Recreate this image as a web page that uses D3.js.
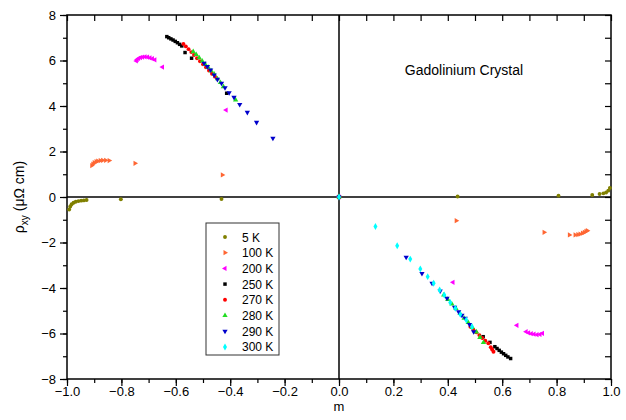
<!DOCTYPE html>
<html>
<head>
<meta charset="utf-8">
<script src="https://cdn.jsdelivr.net/npm/d3@7"></script>
<style>
body { margin: 0; background: #fff; }
text { font-family: "Liberation Sans", Arial, sans-serif; }
</style>
</head>
<body>
<div id="chart"></div>
<script>
// series: [m, rho_xy]
const temps = ["5 K", "100 K", "200 K", "250 K", "270 K", "280 K", "290 K", "300 K"];
const colors = ["#808000", "#ff6633", "#ff00ff", "#000000", "#ff0000", "#22dd22", "#0000cc", "#00ffff"];
const shapes = ["circle", "right", "left", "square", "circle", "up", "down", "diamond"];

const s5 = [[-0.992,-0.55],[-0.988,-0.42],[-0.983,-0.32],[-0.976,-0.25],[-0.968,-0.21],[-0.958,-0.18],[-0.948,-0.16],[-0.938,-0.15],[-0.928,-0.13],[-0.802,-0.10],[-0.432,-0.09],[0,0],[0.436,0.02],[0.807,0.06],[0.931,0.09],[0.958,0.13],[0.972,0.16],[0.982,0.2],[0.99,0.28],[0.996,0.4]];
const s100 = [[-0.909,1.38],[-0.905,1.45],[-0.9,1.51],[-0.893,1.55],[-0.887,1.58],[-0.878,1.6],[-0.869,1.61],[-0.858,1.61],[-0.845,1.6],[-0.75,1.48],[-0.429,0.97],[0,0],[0.431,-1.04],[0.754,-1.55],[0.847,-1.67],[0.868,-1.67],[0.878,-1.65],[0.886,-1.63],[0.895,-1.59],[0.902,-1.55],[0.908,-1.51],[0.913,-1.48]];
const s200 = [[-0.745,5.98],[-0.742,6.04],[-0.737,6.09],[-0.73,6.13],[-0.722,6.15],[-0.713,6.16],[-0.704,6.15],[-0.695,6.12],[-0.686,6.08],[-0.677,6.03],[-0.649,5.71],[-0.415,3.82],[0,0],[0.419,-3.75],[0.654,-5.64],[0.688,-5.92],[0.697,-5.97],[0.707,-6.01],[0.717,-6.03],[0.728,-6.05],[0.739,-6.04],[0.748,-5.99]];
const s250 = [[-0.633,7.05],[-0.626,7.0],[-0.618,6.95],[-0.61,6.9],[-0.602,6.84],[-0.594,6.78],[-0.586,6.71],[-0.578,6.64],[-0.566,6.35],[-0.542,6.1],[-0.413,4.56],[0,0],[0.53,-6.14],[0.555,-6.39],[0.573,-6.58],[0.581,-6.66],[0.589,-6.74],[0.597,-6.82],[0.605,-6.89],[0.613,-6.96],[0.621,-7.03],[0.631,-7.1]];
const s270 = [[-0.572,6.73],[-0.563,6.62],[-0.553,6.5],[-0.543,6.37],[-0.533,6.24],[-0.522,6.1],[-0.511,5.97],[-0.5,5.83],[-0.489,5.7],[-0.478,5.56],[-0.467,5.42],[-0.456,5.29],[0,0],[0.483,-5.7],[0.494,-5.82],[0.505,-5.95],[0.516,-6.07],[0.527,-6.2],[0.538,-6.32],[0.549,-6.43],[0.558,-6.6],[0.563,-6.7],[0.568,-6.8]];
const s280 = [[-0.536,6.39],[-0.525,6.26],[-0.514,6.12],[-0.503,5.98],[-0.492,5.84],[-0.481,5.7],[-0.47,5.55],[-0.459,5.41],[-0.447,5.2],[-0.436,5.03],[-0.425,4.85],[-0.38,4.27],[0,0],[0.385,-4.31],[0.4,-4.5],[0.415,-4.7],[0.43,-4.9],[0.445,-5.12],[0.46,-5.33],[0.475,-5.52],[0.49,-5.73],[0.505,-5.93],[0.518,-6.17],[0.531,-6.4]];
const s290 = [[-0.496,5.88],[-0.484,5.73],[-0.472,5.58],[-0.459,5.36],[-0.447,5.17],[-0.432,5.0],[-0.419,4.8],[-0.404,4.58],[-0.386,4.38],[-0.365,4.07],[-0.337,3.72],[-0.303,3.28],[-0.243,2.58],[0,0],[0.247,-2.65],[0.305,-3.36],[0.342,-3.79],[0.372,-4.13],[0.397,-4.45],[0.425,-4.85],[0.44,-5.05],[0.452,-5.2],[0.464,-5.33],[0.48,-5.6],[0.495,-5.92]];
const s300 = [[0,0],[0.134,-1.3],[0.214,-2.14],[0.262,-2.73],[0.299,-3.16],[0.326,-3.5],[0.348,-3.79],[0.37,-4.09],[0.387,-4.31],[0.409,-4.64],[0.428,-4.89],[0.446,-5.16],[0.468,-5.41],[0.489,-5.7]];
const series = [s5, s100, s200, s250, s270, s280, s290, s300];

const xTicks = [-1.0, -0.8, -0.6, -0.4, -0.2, 0.0, 0.2, 0.4, 0.6, 0.8, 1.0];
const yTicks = [-8, -6, -4, -2, 0, 2, 4, 6, 8];

let width = 626, height = 420;
let svg = d3.select("#chart").append("svg").attr("width", width).attr("height", height);
svg.append("rect").attr("width", width).attr("height", height).attr("fill", "#fff");

let plotL = 67, plotR = 611, plotT = 15, plotB = 379;
let scaleX = d3.scaleLinear().domain([-1, 1]).range([plotL, plotR]);
let scaleY = d3.scaleLinear().domain([-8, 8]).range([plotB, plotT]);

// minor ticks
let xMinor = d3.range(-10, 11).map(d => d / 10);
let yMinor = d3.range(-8, 9);

function clean(g){ g.select(".domain").remove(); g.selectAll("line").attr("stroke", "#000").attr("stroke-width", 1.2); }

svg.append("g").attr("transform", "translate(0," + plotB + ")")
  .call(d3.axisBottom(scaleX).tickValues(xMinor).tickSize(4).tickFormat(""))
  .call(clean);
svg.append("g").attr("transform", "translate(0," + plotB + ")")
  .call(d3.axisBottom(scaleX).tickValues(xTicks).tickSize(7).tickPadding(1).tickFormat(d3.format(".1f")))
  .call(clean)
  .selectAll("text").attr("font-size", 13).attr("fill", "#000");
svg.append("g").attr("transform", "translate(" + plotL + ",0)")
  .call(d3.axisLeft(scaleY).tickValues(yMinor).tickSize(4).tickFormat(""))
  .call(clean);
svg.append("g").attr("transform", "translate(" + plotL + ",0)")
  .call(d3.axisLeft(scaleY).tickValues(yTicks).tickSize(7).tickPadding(4).tickFormat(d3.format("d")))
  .call(clean)
  .selectAll("text").attr("font-size", 13).attr("fill", "#000");
// mirrored ticks pointing inward
svg.append("g").attr("transform", "translate(0," + plotT + ")")
  .call(d3.axisBottom(scaleX).tickValues(xMinor).tickSize(6).tickFormat(""))
  .call(clean);
svg.append("g").attr("transform", "translate(" + plotR + ",0)")
  .call(d3.axisLeft(scaleY).tickValues(yMinor).tickSize(6).tickFormat(""))
  .call(clean);

// frame and zero lines
svg.append("rect").attr("x", plotL).attr("y", plotT).attr("width", plotR - plotL).attr("height", plotB - plotT)
  .attr("fill", "none").attr("stroke", "#000").attr("stroke-width", 1.5);
svg.append("line").attr("x1", plotL).attr("x2", plotR).attr("y1", scaleY(0)).attr("y2", scaleY(0))
  .attr("stroke", "#000").attr("stroke-width", 1.5);
svg.append("line").attr("x1", scaleX(0)).attr("x2", scaleX(0)).attr("y1", plotT).attr("y2", plotB)
  .attr("stroke", "#000").attr("stroke-width", 1.5);

function marker(shape){
  let tri = d3.symbol().type(d3.symbolTriangle).size(12);
  if (shape == "circle") return {path: d3.symbol().type(d3.symbolCircle).size(12)(), rot: 0};
  if (shape == "square") return {path: d3.symbol().type(d3.symbolSquare).size(12)(), rot: 0};
  if (shape == "diamond") return {path: d3.symbol().type(d3.symbolDiamond).size(14)(), rot: 0};
  if (shape == "up") return {path: tri(), rot: 0};
  if (shape == "down") return {path: tri(), rot: 180};
  if (shape == "right") return {path: tri(), rot: 90};
  return {path: tri(), rot: -90};
}

series.forEach((s, i) => {
  let m = marker(shapes[i]);
  svg.append("g").selectAll("path").data(s).enter().append("path")
    .attr("d", m.path)
    .attr("transform", d => "translate(" + scaleX(d[0]) + "," + scaleY(d[1]) + ") rotate(" + m.rot + ")")
    .attr("fill", colors[i]);
});

// axis titles
svg.append("text").attr("x", scaleX(0)).attr("y", 411).attr("text-anchor", "middle").attr("font-size", 13).text("m");
let yl = svg.append("text").attr("transform", "translate(24," + scaleY(0) + ") rotate(-90)")
  .attr("text-anchor", "middle").attr("font-size", 14);
yl.append("tspan").text("\u03c1");
yl.append("tspan").attr("font-size", 10).attr("dy", 4).text("xy");
yl.append("tspan").attr("dy", -4).text(" (\u03bc\u03a9 cm)");

svg.append("text").attr("x", 464).attr("y", 75).attr("text-anchor", "middle").attr("font-size", 14).text("Gadolinium Crystal");

// legend
let legend = svg.append("g").attr("transform", "translate(206,223)");
legend.append("rect").attr("width", 73).attr("height", 132).attr("fill", "#fff").attr("stroke", "#333").attr("stroke-width", 1);
temps.forEach((t, i) => {
  let m = marker(shapes[i]);
  let y = 14 + i * 15.7;
  legend.append("path").attr("d", m.path).attr("transform", "translate(19," + y + ") rotate(" + m.rot + ")").attr("fill", colors[i]);
  legend.append("text").attr("x", 36).attr("y", y + 4.5).attr("font-size", 12).text(t);
});
</script>
</body>
</html>
